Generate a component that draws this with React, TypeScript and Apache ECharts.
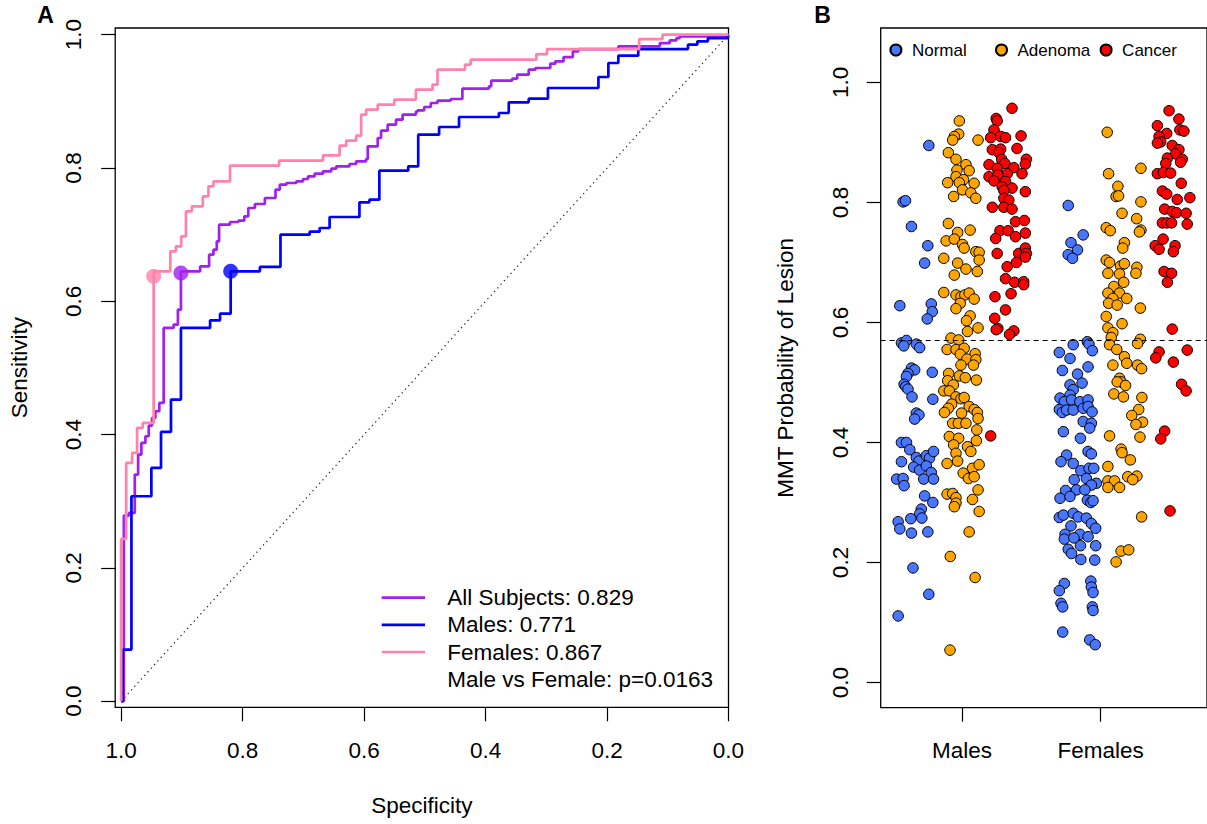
import React, { useEffect, useRef } from "react";
import * as echarts from "echarts";

const FONT = '"Liberation Sans", Arial, Helvetica, sans-serif';

// ---------- Panel A: ROC curves (specificity, sensitivity at each rise) ----------
const allSpec = [1.0, 0.9956, 0.9874, 0.9776, 0.9721, 0.9667, 0.9601, 0.9546, 0.9492, 0.9437, 0.9372, 0.93, 0.9137, 0.9066, 0.9016, 0.87, 0.8552, 0.8481, 0.8426, 0.8388, 0.8208, 0.8071, 0.7973, 0.7907, 0.7798, 0.7634, 0.7459, 0.7388, 0.7279, 0.7115, 0.7005, 0.6923, 0.6814, 0.6678, 0.6541, 0.6459, 0.624, 0.6131, 0.5967, 0.594, 0.5776, 0.5721, 0.5612, 0.5475, 0.5366, 0.5148, 0.512, 0.5011, 0.4902, 0.4792, 0.4574, 0.4382, 0.3945, 0.3907, 0.3563, 0.348, 0.329, 0.318, 0.2934, 0.2852, 0.2716, 0.2563, 0.247, 0.1814, 0.1131, 0.0967, 0.0857, 0.0803, 0.001, 0.0];
const allSens = [0, 0, 0.2785, 0.2825, 0.34, 0.37, 0.3875, 0.3975, 0.4135, 0.425, 0.435, 0.4475, 0.56, 0.565, 0.5875, 0.645, 0.6525, 0.67, 0.6775, 0.69, 0.715, 0.719, 0.721, 0.7275, 0.74, 0.746, 0.755, 0.7675, 0.775, 0.7775, 0.78, 0.7835, 0.7875, 0.7915, 0.795, 0.799, 0.8025, 0.806, 0.81, 0.8135, 0.8325, 0.845, 0.856, 0.865, 0.8725, 0.88, 0.8845, 0.8865, 0.8915, 0.8975, 0.901, 0.9035, 0.919, 0.9225, 0.931, 0.934, 0.94, 0.9475, 0.95, 0.9565, 0.96, 0.9665, 0.975, 0.9785, 0.9825, 0.9875, 0.9915, 0.995, 0.9975, 1.0];

const maleSpec = [1.0, 0.9973, 0.9831, 0.9503, 0.9344, 0.918, 0.9016, 0.8536, 0.8372, 0.8197, 0.7716, 0.7377, 0.6896, 0.6732, 0.6568, 0.6077, 0.5913, 0.5749, 0.5273, 0.5109, 0.4765, 0.4437, 0.3781, 0.3618, 0.329, 0.2973, 0.2142, 0.1978, 0.1814, 0.1486, 0.0667, 0.0514, 0.0339, 0.001, 0.0];
const maleSens = [0, 0, 0.0775, 0.3075, 0.35, 0.404, 0.4525, 0.56, 0.5715, 0.5815, 0.645, 0.6515, 0.7, 0.7045, 0.71, 0.7265, 0.7485, 0.7525, 0.796, 0.8025, 0.85, 0.8615, 0.8765, 0.8825, 0.8985, 0.904, 0.92, 0.9365, 0.9575, 0.9685, 0.9785, 0.985, 0.99, 0.995, 1.0];

const femaleSpec = [1.0, 0.9918, 0.982, 0.9738, 0.9645, 0.9465, 0.9191, 0.9098, 0.9011, 0.8934, 0.8836, 0.8656, 0.8563, 0.8481, 0.8208, 0.7399, 0.6678, 0.6404, 0.6295, 0.6131, 0.6049, 0.5967, 0.5776, 0.5503, 0.5148, 0.4874, 0.4792, 0.4339, 0.4246, 0.3164, 0.2989, 0.147, 0.1087, 0.0];
const femaleSens = [0, 0.2435, 0.3575, 0.3725, 0.41, 0.4175, 0.645, 0.675, 0.6825, 0.6975, 0.735, 0.7425, 0.7575, 0.7725, 0.78, 0.8035, 0.811, 0.819, 0.8335, 0.841, 0.8485, 0.88, 0.8875, 0.895, 0.9025, 0.9175, 0.925, 0.9475, 0.955, 0.9625, 0.971, 0.9785, 0.9935, 1.0];

const rocNames = ["All Subjects", "Males", "Females"];
const rocAuc = [0.829, 0.771, 0.867];
const rocColors = ["#A020F0", "#0000FF", "#FF82AB"];
const thresholdSpec = [0.9016, 0.8197, 0.9465];
const thresholdSens = [0.6425, 0.645, 0.6375];
const comparisonP = "0.0163";
const rocTicks = [0, 0.2, 0.4, 0.6, 0.8, 1.0];

// ---------- Panel B: jittered MMT probabilities ----------
const sexLabels = ["Males", "Females"];
const tissueNames = ["Normal", "Adenoma", "Cancer"];
const tissueColors = ["#4876FF", "#FFA500", "#FF0000"];
const cutoff = 0.5705;
const probTicks = [0, 0.2, 0.4, 0.6, 0.8, 1.0];

const maleNormalOffset = [-0.239, -0.424, -0.407, -0.364, -0.246, -0.269, -0.448, -0.221, -0.214, -0.25, -0.436, -0.4, -0.419, -0.329, -0.305, -0.364, -0.341, -0.389, -0.214, -0.4, -0.417, -0.405, -0.389, -0.36, -0.21, -0.329, -0.31, -0.341, -0.436, -0.4, -0.376, -0.436, -0.329, -0.31, -0.257, -0.234, -0.205, -0.348, -0.305, -0.257, -0.221, -0.471, -0.424, -0.417, -0.276, -0.205, -0.269, -0.21, -0.293, -0.305, -0.46, -0.448, -0.369, -0.289, -0.364, -0.246, -0.353, -0.239, -0.46];
const maleNormalProb = [0.895, 0.801, 0.803, 0.76, 0.728, 0.699, 0.628, 0.631, 0.618, 0.606, 0.566, 0.57, 0.561, 0.564, 0.558, 0.524, 0.521, 0.515, 0.517, 0.51, 0.497, 0.493, 0.489, 0.476, 0.472, 0.449, 0.446, 0.439, 0.4, 0.4, 0.388, 0.368, 0.375, 0.369, 0.378, 0.374, 0.385, 0.359, 0.354, 0.361, 0.35, 0.339, 0.34, 0.328, 0.339, 0.339, 0.311, 0.3, 0.289, 0.281, 0.268, 0.256, 0.273, 0.274, 0.249, 0.251, 0.191, 0.147, 0.111];

const maleAdenomaOffset = [-0.019, -0.024, -0.055, -0.067, 0.116, -0.098, -0.043, 0.029, -0.036, 0.052, -0.043, 0.011, -0.103, -0.019, 0.088, 0.004, 0.064, -0.06, 0.1, -0.098, -0.031, 0.059, -0.114, -0.055, 0.004, 0.016, 0.1, 0.124, -0.131, -0.031, 0.029, 0.111, 0.124, -0.055, -0.131, -0.043, -0.007, 0.021, 0.052, 0.088, -0.012, -0.043, 0.059, 0.033, 0.116, 0.04, -0.079, -0.024, -0.107, -0.043, 0.016, -0.012, 0.095, 0.036, 0.1, -0.007, 0.083, -0.096, -0.103, -0.019, 0.024, 0.104, -0.062, -0.131, -0.091, -0.043, -0.007, 0.016, -0.074, -0.098, 0.052, 0.088, 0.111, -0.126, -0.003, 0.116, -0.067, -0.026, 0.029, 0.107, -0.091, -0.024, 0.104, -0.06, 0.04, 0.064, -0.043, -0.107, -0.031, 0.076, 0.124, 0.009, 0.047, 0.088, -0.107, -0.067, -0.043, -0.043, -0.055, 0.076, 0.116, 0.124, 0.052, -0.084, 0.095, -0.086];
const maleAdenomaProb = [0.936, 0.914, 0.91, 0.904, 0.904, 0.883, 0.872, 0.863, 0.854, 0.853, 0.843, 0.838, 0.833, 0.833, 0.832, 0.821, 0.816, 0.81, 0.807, 0.765, 0.75, 0.754, 0.736, 0.739, 0.73, 0.724, 0.718, 0.717, 0.707, 0.699, 0.689, 0.685, 0.704, 0.679, 0.65, 0.646, 0.643, 0.646, 0.649, 0.639, 0.632, 0.623, 0.611, 0.603, 0.591, 0.585, 0.574, 0.571, 0.555, 0.555, 0.557, 0.547, 0.548, 0.539, 0.538, 0.529, 0.529, 0.515, 0.503, 0.511, 0.508, 0.504, 0.496, 0.486, 0.486, 0.476, 0.473, 0.475, 0.464, 0.457, 0.46, 0.455, 0.45, 0.45, 0.449, 0.44, 0.432, 0.432, 0.432, 0.421, 0.41, 0.407, 0.403, 0.396, 0.393, 0.385, 0.382, 0.365, 0.369, 0.357, 0.363, 0.349, 0.34, 0.343, 0.314, 0.315, 0.308, 0.299, 0.293, 0.305, 0.321, 0.285, 0.251, 0.21, 0.175, 0.054];

const maleCancerOffset = [0.361, 0.247, 0.254, 0.231, 0.207, 0.279, 0.314, 0.426, 0.219, 0.279, 0.397, 0.266, 0.286, 0.309, 0.464, 0.457, 0.195, 0.254, 0.374, 0.326, 0.195, 0.259, 0.433, 0.231, 0.314, 0.29, 0.361, 0.302, 0.457, 0.302, 0.338, 0.219, 0.302, 0.361, 0.386, 0.45, 0.274, 0.333, 0.243, 0.386, 0.457, 0.254, 0.409, 0.457, 0.464, 0.326, 0.393, 0.457, 0.314, 0.379, 0.445, 0.445, 0.238, 0.354, 0.314, 0.236, 0.259, 0.247, 0.374, 0.343, 0.207];
const maleCancerProb = [0.957, 0.94, 0.936, 0.921, 0.908, 0.91, 0.908, 0.911, 0.888, 0.889, 0.89, 0.883, 0.872, 0.865, 0.872, 0.864, 0.863, 0.857, 0.858, 0.848, 0.843, 0.846, 0.848, 0.836, 0.835, 0.826, 0.824, 0.82, 0.818, 0.807, 0.804, 0.792, 0.792, 0.789, 0.768, 0.77, 0.753, 0.753, 0.74, 0.743, 0.749, 0.715, 0.715, 0.724, 0.715, 0.693, 0.7, 0.709, 0.673, 0.667, 0.668, 0.663, 0.643, 0.648, 0.621, 0.607, 0.59, 0.588, 0.586, 0.58, 0.411];

const femaleNormalOffset = [-0.234, -0.214, -0.167, -0.126, -0.234, -0.203, -0.096, -0.084, -0.06, -0.198, -0.298, -0.221, -0.091, -0.276, -0.167, -0.221, -0.134, -0.198, -0.221, -0.293, -0.262, -0.21, -0.15, -0.091, -0.298, -0.276, -0.246, -0.198, -0.126, -0.091, -0.062, -0.126, -0.067, -0.079, -0.269, -0.146, -0.091, -0.067, -0.246, -0.286, -0.198, -0.143, -0.084, -0.05, -0.191, -0.103, -0.031, -0.067, -0.253, -0.174, -0.114, -0.293, -0.221, -0.096, -0.071, -0.055, -0.298, -0.269, -0.198, -0.162, -0.103, -0.067, -0.036, -0.214, -0.257, -0.262, -0.15, -0.091, -0.193, -0.234, -0.21, -0.146, -0.036, -0.143, -0.043, -0.262, -0.298, -0.071, -0.067, -0.055, -0.286, -0.274, -0.06, -0.055, -0.274, -0.079, -0.039];
const femaleNormalProb = [0.795, 0.733, 0.721, 0.746, 0.713, 0.707, 0.568, 0.564, 0.553, 0.563, 0.55, 0.54, 0.526, 0.52, 0.514, 0.496, 0.499, 0.488, 0.479, 0.474, 0.468, 0.471, 0.468, 0.471, 0.455, 0.45, 0.454, 0.454, 0.457, 0.46, 0.451, 0.435, 0.432, 0.424, 0.418, 0.407, 0.385, 0.381, 0.379, 0.368, 0.365, 0.353, 0.357, 0.357, 0.338, 0.34, 0.332, 0.329, 0.32, 0.321, 0.321, 0.307, 0.31, 0.304, 0.3, 0.303, 0.275, 0.279, 0.282, 0.276, 0.274, 0.265, 0.257, 0.261, 0.247, 0.239, 0.247, 0.243, 0.241, 0.222, 0.215, 0.228, 0.228, 0.205, 0.204, 0.165, 0.153, 0.169, 0.159, 0.15, 0.132, 0.126, 0.126, 0.12, 0.084, 0.071, 0.063];

const femaleAdenomaOffset = [0.047, 0.057, 0.29, 0.124, 0.111, 0.129, 0.29, 0.154, 0.259, 0.29, 0.279, 0.04, 0.069, 0.171, 0.159, 0.04, 0.064, 0.052, 0.143, 0.171, 0.136, 0.166, 0.261, 0.254, 0.095, 0.052, 0.136, 0.088, 0.188, 0.057, 0.119, 0.286, 0.04, 0.154, 0.052, 0.088, 0.076, 0.286, 0.266, 0.064, 0.116, 0.171, 0.188, 0.088, 0.266, 0.295, 0.136, 0.147, 0.119, 0.179, 0.095, 0.164, 0.297, 0.274, 0.224, 0.302, 0.254, 0.064, 0.283, 0.147, 0.154, 0.214, 0.052, 0.261, 0.195, 0.231, 0.052, 0.1, 0.136, 0.052, 0.295, 0.147, 0.202, 0.111];
const femaleAdenomaProb = [0.917, 0.848, 0.857, 0.827, 0.81, 0.811, 0.801, 0.782, 0.773, 0.754, 0.751, 0.758, 0.753, 0.733, 0.724, 0.704, 0.7, 0.682, 0.694, 0.698, 0.681, 0.667, 0.692, 0.682, 0.66, 0.649, 0.649, 0.64, 0.64, 0.632, 0.629, 0.624, 0.61, 0.598, 0.591, 0.583, 0.575, 0.572, 0.565, 0.563, 0.555, 0.543, 0.532, 0.529, 0.529, 0.523, 0.507, 0.501, 0.501, 0.495, 0.481, 0.476, 0.475, 0.455, 0.445, 0.434, 0.43, 0.411, 0.409, 0.389, 0.383, 0.371, 0.36, 0.344, 0.343, 0.338, 0.336, 0.336, 0.325, 0.325, 0.276, 0.219, 0.221, 0.201];

const femaleCancerOffset = [0.493, 0.564, 0.409, 0.571, 0.6, 0.476, 0.421, 0.433, 0.409, 0.516, 0.564, 0.54, 0.481, 0.588, 0.576, 0.469, 0.409, 0.452, 0.504, 0.581, 0.445, 0.476, 0.552, 0.643, 0.461, 0.516, 0.547, 0.616, 0.445, 0.476, 0.511, 0.624, 0.45, 0.393, 0.421, 0.536, 0.524, 0.457, 0.511, 0.481, 0.516, 0.421, 0.397, 0.624, 0.524, 0.583, 0.616, 0.461, 0.433, 0.5];
const femaleCancerProb = [0.953, 0.939, 0.928, 0.921, 0.919, 0.915, 0.91, 0.901, 0.899, 0.895, 0.888, 0.881, 0.874, 0.872, 0.867, 0.865, 0.848, 0.85, 0.849, 0.832, 0.819, 0.814, 0.805, 0.808, 0.789, 0.785, 0.783, 0.782, 0.766, 0.766, 0.766, 0.764, 0.739, 0.728, 0.722, 0.728, 0.718, 0.685, 0.682, 0.667, 0.589, 0.551, 0.541, 0.554, 0.534, 0.497, 0.486, 0.419, 0.406, 0.286];

const zip = (xs: number[], ys: number[]) => xs.map((x, i) => [x, ys[i]]);
const jitter = (center: number, offs: number[], probs: number[]) =>
  offs.map((o, i) => [center + o, probs[i]]);

const rocCurves = [
  zip(allSpec, allSens),
  zip(maleSpec, maleSens),
  zip(femaleSpec, femaleSens),
];
const tissueData = [
  [...jitter(1, maleNormalOffset, maleNormalProb), ...jitter(2, femaleNormalOffset, femaleNormalProb)],
  [...jitter(1, maleAdenomaOffset, maleAdenomaProb), ...jitter(2, femaleAdenomaOffset, femaleAdenomaProb)],
  [...jitter(1, maleCancerOffset, maleCancerProb), ...jitter(2, femaleCancerOffset, femaleCancerProb)],
];

const fmt1 = (v: number) => v.toFixed(1);
const txt = { color: "#000", fontSize: 22.5, fontFamily: FONT };

function buildOption() {
  const legendLeft = [889.4, 995.0, 1099.6];
  const rowY = [597.7, 624.8, 652, 679.2];
  const graphic: any[] = [
    { type: "text", x: 45.5, y: 15, style: { text: "A", font: `bold 23px ${FONT}`, fill: "#000", align: "center", verticalAlign: "middle", textAlign: "center", textVerticalAlign: "middle" } },
    { type: "text", x: 822.5, y: 15, style: { text: "B", font: `bold 23px ${FONT}`, fill: "#000", align: "center", verticalAlign: "middle", textAlign: "center", textVerticalAlign: "middle" } },
  ];
  rocNames.forEach((n, i) => {
    graphic.push({ type: "line", shape: { x1: 381.7, y1: rowY[i], x2: 425, y2: rowY[i] }, style: { stroke: rocColors[i], lineWidth: 2.7 } });
    graphic.push({ type: "text", x: 447.3, y: rowY[i], style: { text: `${n}: ${rocAuc[i].toFixed(3)}`, font: `22.5px ${FONT}`, fill: "#000", align: "left", verticalAlign: "middle", textAlign: "left", textVerticalAlign: "middle" } });
  });
  graphic.push({ type: "text", x: 447.3, y: rowY[3], style: { text: `Male vs Female: p=${comparisonP}`, font: `22.5px ${FONT}`, fill: "#000", align: "left", verticalAlign: "middle", textAlign: "left", textVerticalAlign: "middle" } });

  return {
    animation: false,
    backgroundColor: "#fff",
    textStyle: { fontFamily: FONT },
    graphic,
    legend: tissueNames.map((n, i) => ({
      data: [n],
      left: legendLeft[i],
      top: 41.5,
      padding: 0,
      itemWidth: 22,
      itemHeight: 11,
      icon: "circle",
      selectedMode: false,
      textStyle: { color: "#000", fontSize: 17, fontFamily: FONT },
    })),
    grid: [
      { left: 113, top: 28, width: 615.5, height: 679.3, show: true, borderColor: "#000", borderWidth: 1.3, backgroundColor: "transparent" },
      { left: 880.7, top: 28, right: -3, height: 679.7, show: true, borderColor: "#000", borderWidth: 1.3, backgroundColor: "transparent" },
    ],
    xAxis: [
      {
        gridIndex: 0, type: "value", inverse: true, min: 0, max: 1.00984,
        axisLine: { show: false, onZero: false },
        axisTick: { show: true, length: 14, customValues: rocTicks, lineStyle: { color: "#000", width: 1.2 } },
        axisLabel: { customValues: rocTicks, formatter: fmt1, margin: 43.5, verticalAlign: "middle", ...txt },
        splitLine: { show: false },
        name: "Specificity", nameLocation: "middle", nameGap: 97.7,
        nameTextStyle: { ...txt, verticalAlign: "middle" },
      },
      {
        gridIndex: 1, type: "value", min: 0.4143, max: 2.7664,
        axisLine: { show: false, onZero: false },
        axisTick: { show: true, length: 14, customValues: [1, 2], lineStyle: { color: "#000", width: 1.2 } },
        axisLabel: { customValues: [1, 2], formatter: (v: number) => sexLabels[Math.round(v) - 1], margin: 42.5, verticalAlign: "middle", ...txt },
        splitLine: { show: false },
      },
    ],
    yAxis: [
      {
        gridIndex: 0, type: "value", min: -0.00915, max: 1.01005,
        axisLine: { show: false, onZero: false },
        axisTick: { show: true, length: 14, customValues: rocTicks, lineStyle: { color: "#000", width: 1.2 } },
        axisLabel: { customValues: rocTicks, formatter: fmt1, rotate: 90, align: "center", verticalAlign: "middle", margin: 41.3, ...txt },
        splitLine: { show: false },
        name: "Sensitivity", nameLocation: "middle", nameRotate: 90, nameGap: 95.7,
        nameTextStyle: { ...txt, align: "center", verticalAlign: "middle" },
      },
      {
        gridIndex: 1, type: "value", min: -0.042, max: 1.0908,
        axisLine: { show: false, onZero: false },
        axisTick: { show: true, length: 14, customValues: probTicks, lineStyle: { color: "#000", width: 1.2 } },
        axisLabel: { customValues: probTicks, formatter: fmt1, rotate: 90, align: "center", verticalAlign: "middle", margin: 40, ...txt },
        splitLine: { show: false },
        name: "MMT Probability of Lesion", nameLocation: "middle", nameRotate: 90, nameGap: 95.7,
        nameTextStyle: { ...txt, align: "center", verticalAlign: "middle" },
      },
    ],
    series: [
      {
        type: "line", name: "diagonal", xAxisIndex: 0, yAxisIndex: 0,
        data: [[1, 0], [0, 1]], showSymbol: false, silent: true,
        lineStyle: { color: "#222", width: 1.2, type: [1.3, 3.6] }, z: 1,
      },
      ...rocCurves.map((d, i) => ({
        type: "line", name: rocNames[i], xAxisIndex: 0, yAxisIndex: 0,
        data: d, step: "start", showSymbol: false, silent: true,
        lineStyle: { color: rocColors[i], width: 2.7 }, itemStyle: { color: rocColors[i] }, z: 2 + i,
      })),
      {
        type: "scatter", name: "thresholds", xAxisIndex: 0, yAxisIndex: 0, symbolSize: 15, silent: true, z: 6,
        data: thresholdSpec.map((s, i) => ({ value: [s, thresholdSens[i]], itemStyle: { color: rocColors[i] } })),
      },
      ...tissueData.map((d, i) => ({
        type: "scatter", name: tissueNames[i], xAxisIndex: 1, yAxisIndex: 1,
        data: d, symbolSize: 10.5, silent: true, z: 3 + i,
        itemStyle: { color: tissueColors[i], borderColor: "#000", borderWidth: 1, opacity: 1 },
        ...(i === 2
          ? {
              markLine: {
                silent: true, symbol: "none", label: { show: false },
                lineStyle: { color: "#000", type: [5, 4], width: 1.2 },
                data: [{ yAxis: cutoff }],
              },
            }
          : {}),
      })),
    ],
  };
}

export default function App() {
  const ref = useRef<HTMLDivElement>(null);
  useEffect(() => {
    if (!ref.current) return;
    const chart = echarts.init(ref.current, null, { renderer: "svg" });
    chart.setOption(buildOption() as any);
    return () => chart.dispose();
  }, []);
  return (
    <div
      ref={ref}
      style={{ position: "fixed", left: 0, top: 0, width: 1207, height: 824, background: "#fff" }}
    />
  );
}
